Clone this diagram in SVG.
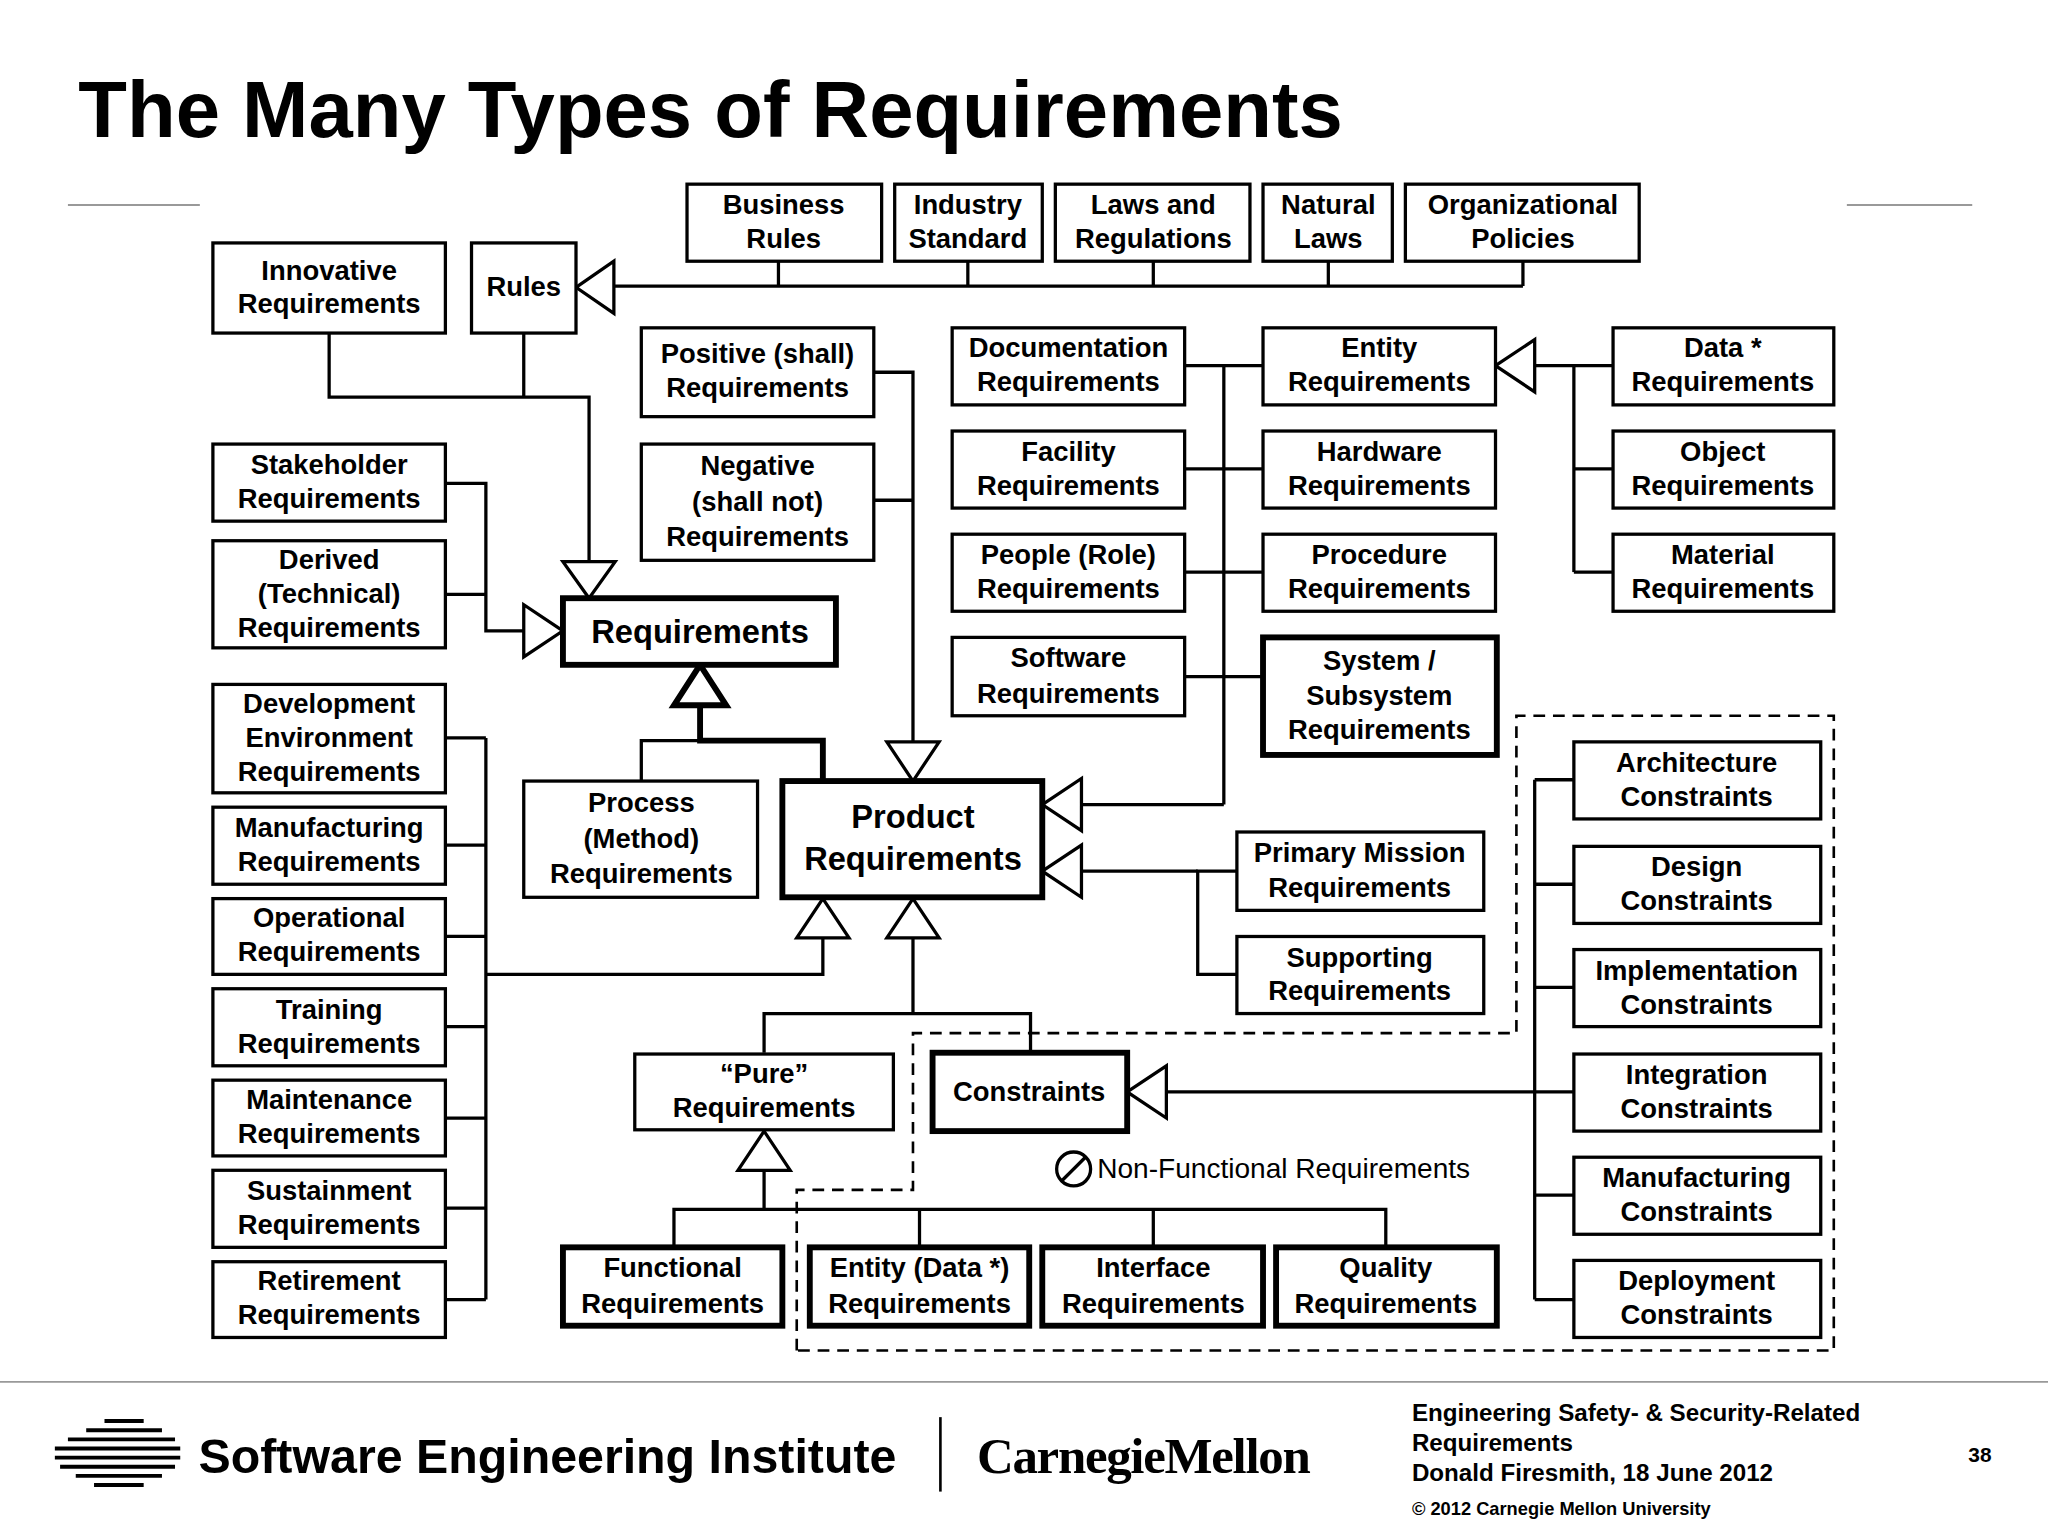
<svg xmlns="http://www.w3.org/2000/svg" width="2048" height="1536" viewBox="0 0 2048 1536">
<style>
text{font-family:"Liberation Sans",Arial,sans-serif;font-weight:bold;fill:#000}
.b rect{fill:#fff;stroke:#000;stroke-width:2.5}
.k rect{fill:#fff;stroke:#000;stroke-width:4.5}
.n text{font-size:21px;text-anchor:middle}
.c path,.c line,.c polyline{fill:none;stroke:#000;stroke-width:2.5}
.t{fill:#fff;stroke:#000;stroke-width:2.5}
</style>
<rect width="2048" height="1536" fill="#fff"/>
<g transform="scale(1.30612)">
<text x="60" y="105" font-size="61">The Many Types of Requirements</text>
<line x1="52" y1="157" x2="153" y2="157" stroke="#999" stroke-width="1.5"/>
<line x1="1414" y1="157" x2="1510" y2="157" stroke="#999" stroke-width="1.5"/>

<g id="connectors" class="c">
<polyline points="596,200 596,219"/><polyline points="741,200 741,219"/><polyline points="883,200 883,219"/><polyline points="1017,200 1017,219"/><polyline points="1166,200 1166,219"/>
<line x1="470" y1="219" x2="1166" y2="219"/>
<polygon class="t" points="441,220 470,200 470,240"/>
<polyline points="252,255 252,304 451,304 451,430"/>
<line x1="401" y1="255" x2="401" y2="304"/>
<polygon class="t" points="451,458 431,430 471,430"/>
<polyline points="341,370 372,370 372,483 401,483"/>
<line x1="341" y1="455" x2="372" y2="455"/>
<polygon class="t" points="431,483 401,463 401,503"/>
<line x1="372" y1="565" x2="372" y2="995"/>
<line x1="341" y1="565" x2="372" y2="565"/><line x1="341" y1="647" x2="372" y2="647"/><line x1="341" y1="717" x2="372" y2="717"/><line x1="341" y1="786" x2="372" y2="786"/><line x1="341" y1="856" x2="372" y2="856"/><line x1="341" y1="925" x2="372" y2="925"/><line x1="341" y1="995" x2="372" y2="995"/>
<polyline points="372,746 630,746 630,718"/>
<polygon class="t" points="630,688 610,718 650,718"/>
<polyline points="669,285 699,285 699,568"/><line x1="669" y1="383" x2="699" y2="383"/>
<polygon class="t" points="699,598 679,568 719,568"/>
<polyline points="491,598 491,567 536,567"/>
<polyline points="536,540 536,567 630,567 630,598" style="stroke-width:4.5"/>
<polygon class="t" points="536,509 516,540 556,540" style="stroke-width:4.5"/>
<line x1="937" y1="280" x2="937" y2="616"/>
<line x1="907" y1="280" x2="967" y2="280"/><line x1="907" y1="359" x2="967" y2="359"/><line x1="907" y1="438" x2="967" y2="438"/><line x1="907" y1="518" x2="967" y2="518"/>
<line x1="828" y1="616" x2="937" y2="616"/>
<polygon class="t" points="798,616 828,596 828,636"/>
<line x1="1205" y1="280" x2="1205" y2="438"/>
<line x1="1175" y1="280" x2="1235" y2="280"/><line x1="1205" y1="359" x2="1235" y2="359"/><line x1="1205" y1="438" x2="1235" y2="438"/>
<polygon class="t" points="1145,280 1175,260 1175,300"/>
<polyline points="947,667 917,667 917,746 947,746"/><line x1="828" y1="667" x2="917" y2="667"/>
<polygon class="t" points="798,667 828,647 828,687"/>
<polygon class="t" points="699,688 679,718 719,718"/>
<polyline points="699,718 699,776"/>
<polyline points="585,806 585,776 789,776 789,806"/>
<line x1="893" y1="836" x2="1175" y2="836"/>
<polygon class="t" points="863,836 893,816 893,856"/>
<polygon class="t" points="585,866 565,896 605,896"/>
<line x1="585" y1="896" x2="585" y2="926"/>
<polyline points="516,955 516,926 1061,926 1061,955"/><line x1="704" y1="926" x2="704" y2="955"/><line x1="883" y1="926" x2="883" y2="955"/>
<line x1="1175" y1="597" x2="1175" y2="995"/>
<line x1="1175" y1="597" x2="1205" y2="597"/><line x1="1175" y1="677" x2="1205" y2="677"/><line x1="1175" y1="756" x2="1205" y2="756"/><line x1="1175" y1="836" x2="1205" y2="836"/><line x1="1175" y1="915" x2="1205" y2="915"/><line x1="1175" y1="995" x2="1205" y2="995"/>
<polygon points="610,1034 610,911 699,911 699,791 1161,791 1161,548 1404,548 1404,1034" fill="none" stroke="#000" stroke-width="2" stroke-dasharray="9,6"/>
</g>

<g class="n">
<g id="business" class="b"><rect x="526" y="141" width="149" height="59"/><text x="600" y="164">Business</text><text x="600" y="190">Rules</text></g>
<g id="industry" class="b"><rect x="685" y="141" width="113" height="59"/><text x="741" y="164">Industry</text><text x="741" y="190">Standard</text></g>
<g id="laws" class="b"><rect x="808" y="141" width="149" height="59"/><text x="883" y="164">Laws and</text><text x="883" y="190">Regulations</text></g>
<g id="natural" class="b"><rect x="967" y="141" width="99" height="59"/><text x="1017" y="164">Natural</text><text x="1017" y="190">Laws</text></g>
<g id="org" class="b"><rect x="1076" y="141" width="179" height="59"/><text x="1166" y="164">Organizational</text><text x="1166" y="190">Policies</text></g>
<g id="rules" class="b"><rect x="361" y="186" width="80" height="69"/><text x="401" y="227">Rules</text></g>
<g id="innovative" class="b"><rect x="163" y="186" width="178" height="69"/><text x="252" y="214">Innovative</text><text x="252" y="240">Requirements</text></g>
<g id="stakeholder" class="b"><rect x="163" y="340" width="178" height="59"/><text x="252" y="363">Stakeholder</text><text x="252" y="389">Requirements</text></g>
<g id="derived" class="b"><rect x="163" y="414" width="178" height="82"/><text x="252" y="436">Derived</text><text x="252" y="462">(Technical)</text><text x="252" y="488">Requirements</text></g>
<g id="requirements" class="k"><rect x="431" y="458" width="209" height="51"/><text x="536" y="492" style="font-size:25px">Requirements</text></g>
<g id="devenv" class="b"><rect x="163" y="524" width="178" height="83"/><text x="252" y="546">Development</text><text x="252" y="572">Environment</text><text x="252" y="598">Requirements</text></g>
<g id="manuf" class="b"><rect x="163" y="618" width="178" height="59"/><text x="252" y="641">Manufacturing</text><text x="252" y="667">Requirements</text></g>
<g id="oper" class="b"><rect x="163" y="688" width="178" height="58"/><text x="252" y="710">Operational</text><text x="252" y="736">Requirements</text></g>
<g id="training" class="b"><rect x="163" y="757" width="178" height="59"/><text x="252" y="780">Training</text><text x="252" y="806">Requirements</text></g>
<g id="maint" class="b"><rect x="163" y="827" width="178" height="58"/><text x="252" y="849">Maintenance</text><text x="252" y="875">Requirements</text></g>
<g id="sustain" class="b"><rect x="163" y="896" width="178" height="59"/><text x="252" y="919">Sustainment</text><text x="252" y="945">Requirements</text></g>
<g id="retire" class="b"><rect x="163" y="966" width="178" height="58"/><text x="252" y="988">Retirement</text><text x="252" y="1014">Requirements</text></g>
<g id="positive" class="b"><rect x="491" y="251" width="178" height="68"/><text x="580" y="278">Positive (shall)</text><text x="580" y="304">Requirements</text></g>
<g id="negative" class="b"><rect x="491" y="340" width="178" height="89"/><text x="580" y="364">Negative</text><text x="580" y="391">(shall not)</text><text x="580" y="418">Requirements</text></g>
<g id="process" class="b"><rect x="401" y="598" width="179" height="89"/><text x="491" y="622">Process</text><text x="491" y="649">(Method)</text><text x="491" y="676">Requirements</text></g>
<g id="product" class="k"><rect x="599" y="598" width="199" height="89"/><text x="699" y="634" style="font-size:25px">Product</text><text x="699" y="666" style="font-size:25px">Requirements</text></g>
<g id="doc" class="b"><rect x="729" y="251" width="178" height="59"/><text x="818" y="273">Documentation</text><text x="818" y="299">Requirements</text></g>
<g id="facility" class="b"><rect x="729" y="330" width="178" height="59"/><text x="818" y="353">Facility</text><text x="818" y="379">Requirements</text></g>
<g id="people" class="b"><rect x="729" y="409" width="178" height="59"/><text x="818" y="432">People (Role)</text><text x="818" y="458">Requirements</text></g>
<g id="software" class="b"><rect x="729" y="488" width="178" height="60"/><text x="818" y="511">Software</text><text x="818" y="538">Requirements</text></g>
<g id="entity" class="b"><rect x="967" y="251" width="178" height="59"/><text x="1056" y="273">Entity</text><text x="1056" y="299">Requirements</text></g>
<g id="hardware" class="b"><rect x="967" y="330" width="178" height="59"/><text x="1056" y="353">Hardware</text><text x="1056" y="379">Requirements</text></g>
<g id="procedure" class="b"><rect x="967" y="409" width="178" height="59"/><text x="1056" y="432">Procedure</text><text x="1056" y="458">Requirements</text></g>
<g id="system" class="k"><rect x="967" y="488" width="179" height="90"/><text x="1056" y="513">System /</text><text x="1056" y="540">Subsystem</text><text x="1056" y="566">Requirements</text></g>
<g id="data" class="b"><rect x="1235" y="251" width="169" height="59"/><text x="1319" y="273">Data *</text><text x="1319" y="299">Requirements</text></g>
<g id="object" class="b"><rect x="1235" y="330" width="169" height="59"/><text x="1319" y="353">Object</text><text x="1319" y="379">Requirements</text></g>
<g id="material" class="b"><rect x="1235" y="409" width="169" height="59"/><text x="1319" y="432">Material</text><text x="1319" y="458">Requirements</text></g>
<g id="primary" class="b"><rect x="947" y="637" width="189" height="60"/><text x="1041" y="660">Primary Mission</text><text x="1041" y="687">Requirements</text></g>
<g id="supporting" class="b"><rect x="947" y="717" width="189" height="59"/><text x="1041" y="740">Supporting</text><text x="1041" y="766">Requirements</text></g>
<g id="pure" class="b"><rect x="486" y="807" width="198" height="58"/><text x="585" y="829">“Pure”</text><text x="585" y="855">Requirements</text></g>
<g id="constraints" class="k"><rect x="714" y="806" width="149" height="60"/><text x="788" y="843">Constraints</text></g>
<g id="functional" class="k"><rect x="431" y="955" width="168" height="60"/><text x="515" y="978">Functional</text><text x="515" y="1005">Requirements</text></g>
<g id="entitydata" class="k"><rect x="620" y="955" width="168" height="60"/><text x="704" y="978">Entity (Data *)</text><text x="704" y="1005">Requirements</text></g>
<g id="interface" class="k"><rect x="798" y="955" width="169" height="60"/><text x="883" y="978">Interface</text><text x="883" y="1005">Requirements</text></g>
<g id="quality" class="k"><rect x="977" y="955" width="169" height="60"/><text x="1061" y="978">Quality</text><text x="1061" y="1005">Requirements</text></g>
<g id="arch" class="b"><rect x="1205" y="568" width="189" height="59"/><text x="1299" y="591">Architecture</text><text x="1299" y="617">Constraints</text></g>
<g id="design" class="b"><rect x="1205" y="648" width="189" height="59"/><text x="1299" y="671">Design</text><text x="1299" y="697">Constraints</text></g>
<g id="impl" class="b"><rect x="1205" y="727" width="189" height="59"/><text x="1299" y="750">Implementation</text><text x="1299" y="776">Constraints</text></g>
<g id="integ" class="b"><rect x="1205" y="807" width="189" height="59"/><text x="1299" y="830">Integration</text><text x="1299" y="856">Constraints</text></g>
<g id="manufc" class="b"><rect x="1205" y="886" width="189" height="59"/><text x="1299" y="909">Manufacturing</text><text x="1299" y="935">Constraints</text></g>
<g id="deploy" class="b"><rect x="1205" y="965" width="189" height="59"/><text x="1299" y="988">Deployment</text><text x="1299" y="1014">Constraints</text></g>
</g>
<g id="nonfunc">
<circle cx="822" cy="895" r="13" fill="none" stroke="#000" stroke-width="2.5"/>
<line x1="813" y1="904" x2="831" y2="886" stroke="#000" stroke-width="2.5"/>
<text x="840" y="902" font-size="21.5" style="font-weight:normal">Non-Functional Requirements</text>
</g>

<line x1="0" y1="1058" x2="1568" y2="1058" stroke="#999" stroke-width="1.5"/>
<g id="logo" stroke="#000" stroke-width="3">
<line x1="80" y1="1088" x2="110" y2="1088"/><line x1="66" y1="1095" x2="124" y2="1095"/><line x1="52" y1="1102" x2="134" y2="1102"/><line x1="42" y1="1109" x2="138" y2="1109"/><line x1="42" y1="1116" x2="138" y2="1116"/><line x1="46" y1="1123" x2="134" y2="1123"/><line x1="58" y1="1130" x2="124" y2="1130"/><line x1="72" y1="1137" x2="110" y2="1137"/>
</g>
<text x="152" y="1128" font-size="37">Software Engineering Institute</text>
<line x1="720" y1="1085" x2="720" y2="1142" stroke="#000" stroke-width="2"/>
<text x="748" y="1128" font-size="39" style="font-family:'Liberation Serif',serif;letter-spacing:-1px">CarnegieMellon</text>
<text x="1081" y="1088" font-size="18.5">Engineering Safety- &amp; Security-Related</text>
<text x="1081" y="1111" font-size="18.5">Requirements</text>
<text x="1081" y="1134" font-size="18.5">Donald Firesmith,  18 June 2012</text>
<text x="1081" y="1160" font-size="14">© 2012 Carnegie Mellon University</text>
<text x="1507" y="1119" font-size="16">38</text>
</g>
</svg>
